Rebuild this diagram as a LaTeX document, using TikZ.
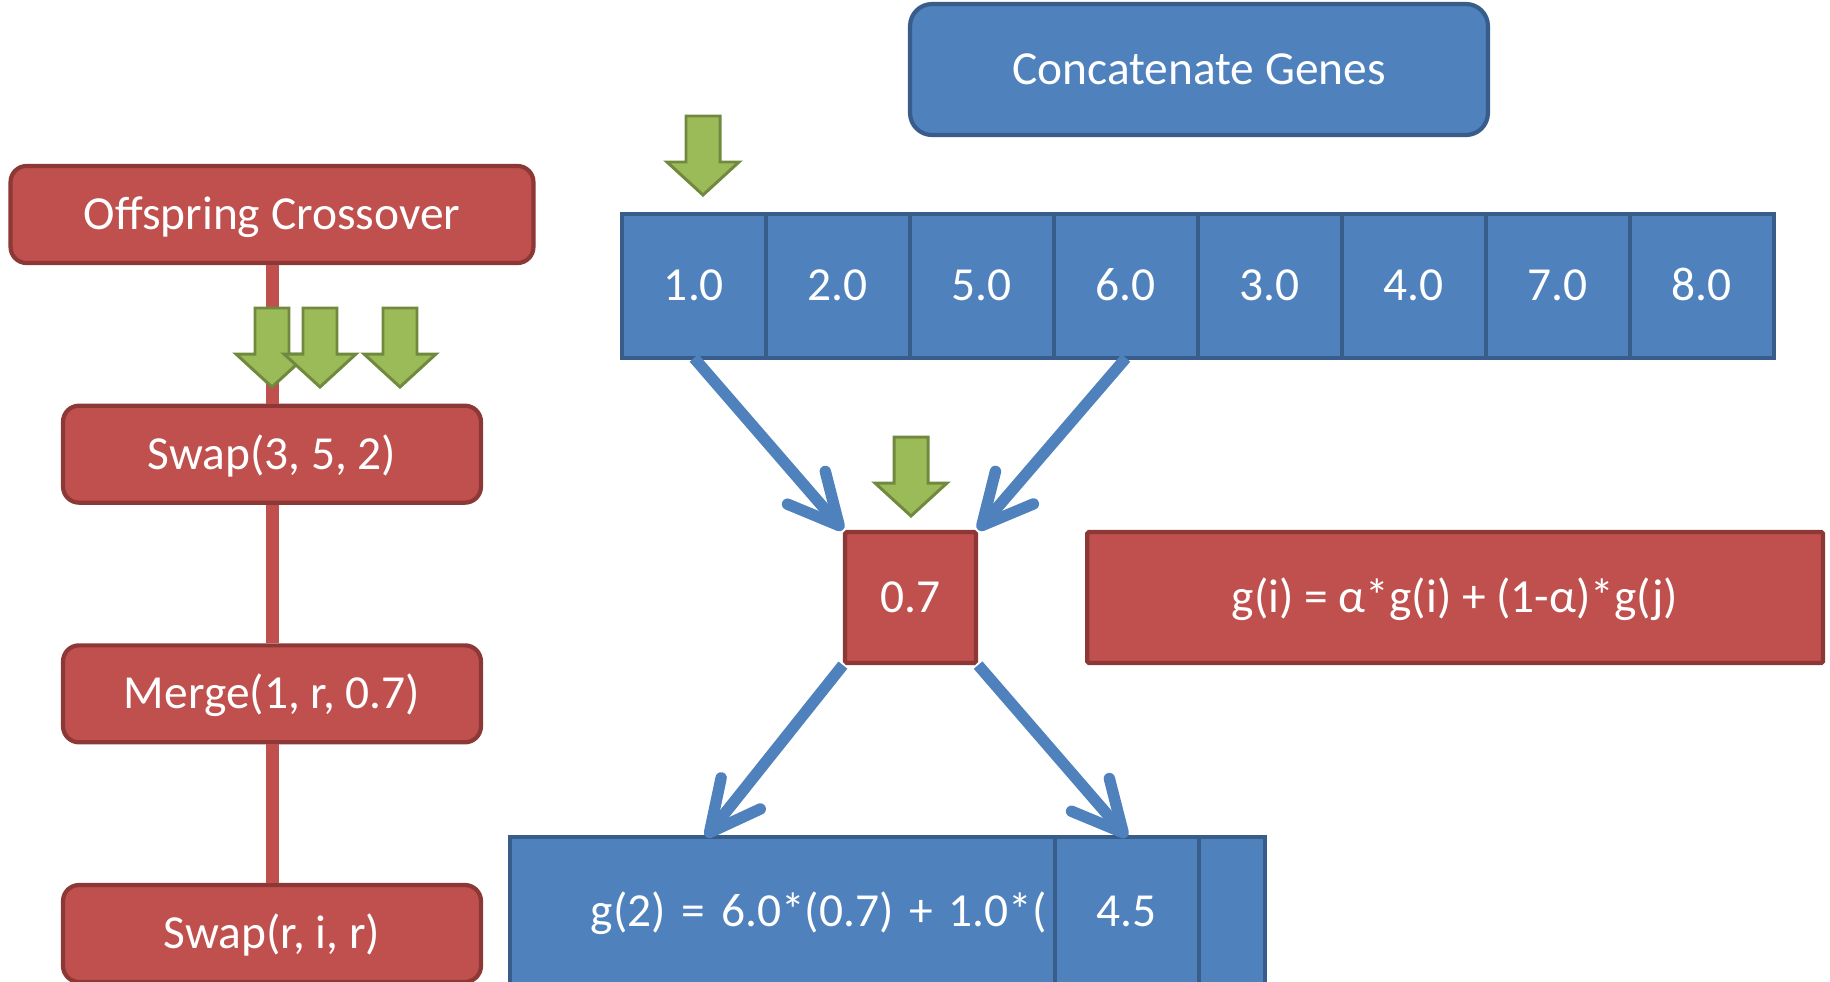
\documentclass[tikz,border=0pt]{standalone}
\usepackage{fontspec}
\setmainfont{Carlito}
\usetikzlibrary{positioning,arrows.meta}

\definecolor{redfill}{HTML}{C0504D}
\definecolor{redline}{HTML}{8C3836}
\definecolor{bluefill}{HTML}{4F81BD}
\definecolor{blueline}{HTML}{385D8A}
\definecolor{greenfill}{HTML}{9BBB59}
\definecolor{greenline}{HTML}{71893F}

\begin{document}
\begin{tikzpicture}[x=0.02cm,y=-0.02cm,
    every node/.style={font=\fontsize{27}{32}\selectfont, text=white, text height=17pt, text depth=0pt},
    redbox/.style={draw=redline, fill=redfill, line width=2.4pt, rounded corners=0.32cm,
                   minimum width=8.36cm, minimum height=1.94cm},
    bluebox/.style={draw=blueline, fill=bluefill, line width=2.4pt, rounded corners=0.44cm,
                    minimum width=11.56cm, minimum height=2.62cm},
    redcell/.style={draw=redline, fill=redfill, line width=2.4pt, rounded corners=1pt,
                    minimum width=2.62cm, minimum height=2.62cm},
    cell/.style={draw=blueline, fill=bluefill, line width=2.4pt, outer sep=0pt, inner sep=0pt,
                 minimum width=2.88cm, minimum height=2.88cm},
    link/.style={draw=redfill, line width=0.26cm},
    flow/.style={draw=bluefill, line width=6.5pt, -{Straight Barb[length=1cm,width=1cm,round]}},
    pick/.pic={\draw[draw=greenline, fill=greenfill, line width=1.7pt]
      (0,0) -- (-36,-33) -- (-17,-33) -- (-17,-79) -- (17,-79) -- (17,-33) -- (36,-33) -- cycle;}]
  \useasboundingbox (0,0) rectangle (1830,981);

  % left column
  \node (cross) [redbox, minimum width=10.46cm] at (272,214.5) {Offspring Crossover};
  \node (swapA) [redbox, below=2.77cm of cross] {Swap(3, 5, 2)};
  \node (merge) [redbox, below=2.77cm of swapA] {Merge(1, r, 0.7)};
  \node (swapB) [redbox, below=2.77cm of merge] {Swap(r, i, r)};
  \draw[link] (cross) -- (swapA);
  \draw[link] (swapA) -- (merge);
  \draw[link] (merge) -- (swapB);
  \pic (p1) at (272,387) {pick};
  \pic (p2) at (320,387) {pick};
  \pic (p3) at (400,387) {pick};

  % genes
  \node (concat) [bluebox] at (1199,69.5) {Concatenate Genes};
  \node (c1) [cell] at (694,286) {1.0};
  \node (c2) [cell, right=0pt of c1] {2.0};
  \node (c3) [cell, right=0pt of c2] {5.0};
  \node (c4) [cell, right=0pt of c3] {6.0};
  \node (c5) [cell, right=0pt of c4] {3.0};
  \node (c6) [cell, right=0pt of c5] {4.0};
  \node (c7) [cell, right=0pt of c6] {7.0};
  \node (c8) [cell, right=0pt of c7] {8.0};
  \pic (p4) at (703,195) {pick};

  % merge step
  \node (alpha) [redcell] at (910.5,597.5) {0.7};
  \node (rule) [redcell, minimum width=14.72cm, right=2.14cm of alpha] {g(i) = α*g(i) + (1-α)*g(j)};
  \pic (p5) at (911,516) {pick};

  \node (mix) [cell, minimum width=10.9cm, minimum height=3cm, text width=10.58cm,
               align=right, inner xsep=0.16cm] at (782.5,912) {g(2) = 6.0*(0.7) + 1.0*(};
  \node (res) [cell, minimum height=3cm, right=0pt of mix] {4.5};
  \node (tail) [cell, minimum width=1.32cm, minimum height=3cm, right=0pt of res] {};
  \coordinate (mixin) at (706,837);

  \draw[flow] (c1.south) -- (alpha.north west);
  \draw[flow] (c4.south) -- (alpha.north east);
  \draw[flow] (alpha.south west) -- (mixin);
  \draw[flow] (alpha.south east) -- (res.north);
\end{tikzpicture}
\end{document}
